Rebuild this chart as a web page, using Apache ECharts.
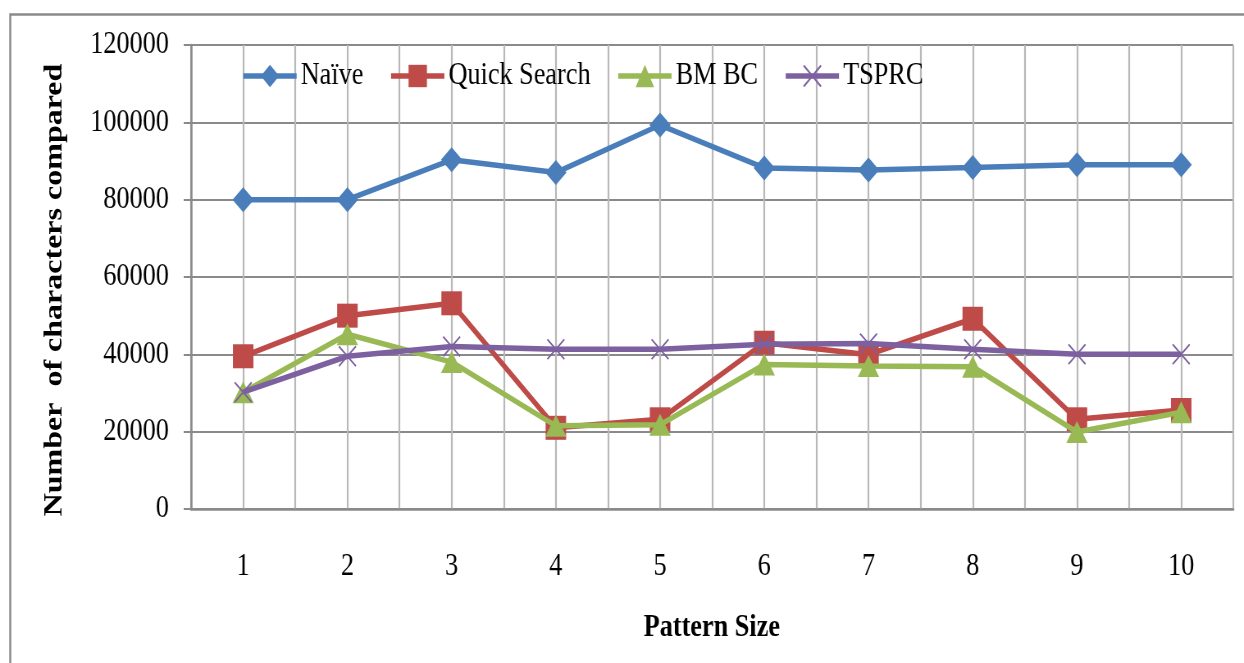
<!DOCTYPE html>
<html>
<head>
<meta charset="utf-8">
<script src="https://cdn.jsdelivr.net/npm/echarts@6/dist/echarts.min.js"></script>
<style>
html,body{margin:0;padding:0;background:#fff;overflow:hidden;}
#wrap{width:1244px;height:663px;overflow:hidden;position:relative;}
#chart{width:1517px;height:663px;transform:scaleX(0.82);transform-origin:0 0;position:absolute;left:0;top:0;}
</style>
</head>
<body>
<div id="wrap"><div id="chart"></div></div>
<script>
const categories = [1, 2, 3, 4, 5, 6, 7, 8, 9, 10];
const naive = [80000, 80000, 90300, 87000, 99300, 88200, 87700, 88300, 89000, 89000];
const quickSearch = [39500, 50000, 53200, 21000, 23200, 43000, 39900, 49200, 23200, 25600];
const bmbc = [30200, 45200, 38000, 21500, 21800, 37400, 37000, 36800, 19900, 25000];
const tsprc = [30200, 39500, 42000, 41300, 41300, 42600, 42800, 41300, 40000, 40000];
const yTicks = [0, 20000, 40000, 60000, 80000, 100000, 120000];

const FONT = '"Liberation Serif", "Times New Roman", serif';
const pair = arr => categories.map((c, i) => [c, arr[i]]);
const xShape = 'path://M0,1.2L1.2,0L20,18.8L18.8,20Z M18.8,0L20,1.2L1.2,20L0,18.8Z';

const chart = echarts.init(document.getElementById('chart'), null, {renderer: 'canvas'});
chart.setOption({
  animation: false,
  backgroundColor: '#fff',
  grid: {left: 233, right: 13, top: 45, bottom: 154},
  legend: {
    left: 289, top: 55,
    itemWidth: 65, itemHeight: 28, itemGap: 31,
    lineStyle: {width: 5.5},
    textStyle: {fontFamily: FONT, fontSize: 32, color: '#000'},
    data: ['Naïve', 'Quick Search', 'BM BC', 'TSPRC']
  },
  xAxis: {
    type: 'value', min: 0.5, max: 10.5, interval: 0.5,
    axisLine: {show: true, lineStyle: {color: '#8a8a8a', width: 2.5}},
    axisTick: {show: false},
    axisLabel: {
      margin: 42, fontFamily: FONT, fontSize: 32, color: '#000',
      formatter: v => (Math.abs(v - Math.round(v)) < 1e-6 && categories.indexOf(Math.round(v)) >= 0) ? String(categories[Math.round(v) - 1]) : ''
    },
    splitLine: {show: true, lineStyle: {color: '#b8b8b8', width: 2.2}}
  },
  yAxis: {
    type: 'value', min: yTicks[0], max: yTicks[yTicks.length - 1], interval: yTicks[1] - yTicks[0],
    axisLine: {show: true, lineStyle: {color: '#8a8a8a', width: 2.5}},
    axisTick: {show: true, length: 9, lineStyle: {color: '#8a8a8a', width: 2}},
    axisLabel: {margin: 27, fontFamily: FONT, fontSize: 32, color: '#000', formatter: v => String(v)},
    splitLine: {show: true, lineStyle: {color: '#8a8a8a', width: 2}}
  },
  graphic: [
    {type: 'rect', left: 10, top: 12, z: -10, shape: {width: 2000, height: 1000},
     style: {fill: 'none', stroke: '#8a8a8a', lineWidth: 2.4}},
    {type: 'text', x: 67, y: 290, rotation: Math.PI / 2,
     style: {text: 'Number  of characters compared', font: 'bold 32px ' + FONT, fill: '#000',
             textAlign: 'center', textVerticalAlign: 'middle'}},
    {type: 'text', x: 868, y: 628,
     style: {text: 'Pattern Size', font: 'bold 32px ' + FONT, fill: '#000',
             textAlign: 'center', textVerticalAlign: 'middle'}}
  ],
  series: [
    {name: 'Naïve', type: 'line', data: pair(naive), symbol: 'diamond', symbolSize: [26, 25],
     lineStyle: {width: 5.5, color: '#4a7ebb'}, itemStyle: {color: '#4a7ebb'}, z: 2},
    {name: 'Quick Search', type: 'line', data: pair(quickSearch), symbol: 'rect', symbolSize: [25, 24],
     lineStyle: {width: 5.5, color: '#be4b48'}, itemStyle: {color: '#be4b48'}, z: 3},
    {name: 'BM BC', type: 'line', data: pair(bmbc), symbol: 'triangle', symbolSize: [26, 22],
     lineStyle: {width: 5.5, color: '#98b954'}, itemStyle: {color: '#98b954'}, z: 4},
    {name: 'TSPRC', type: 'line', data: pair(tsprc), symbol: xShape, symbolSize: [22, 21],
     lineStyle: {width: 5.5, color: '#7d60a0'}, itemStyle: {color: '#7d60a0'}, z: 5}
  ]
});
</script>
</body>
</html>
